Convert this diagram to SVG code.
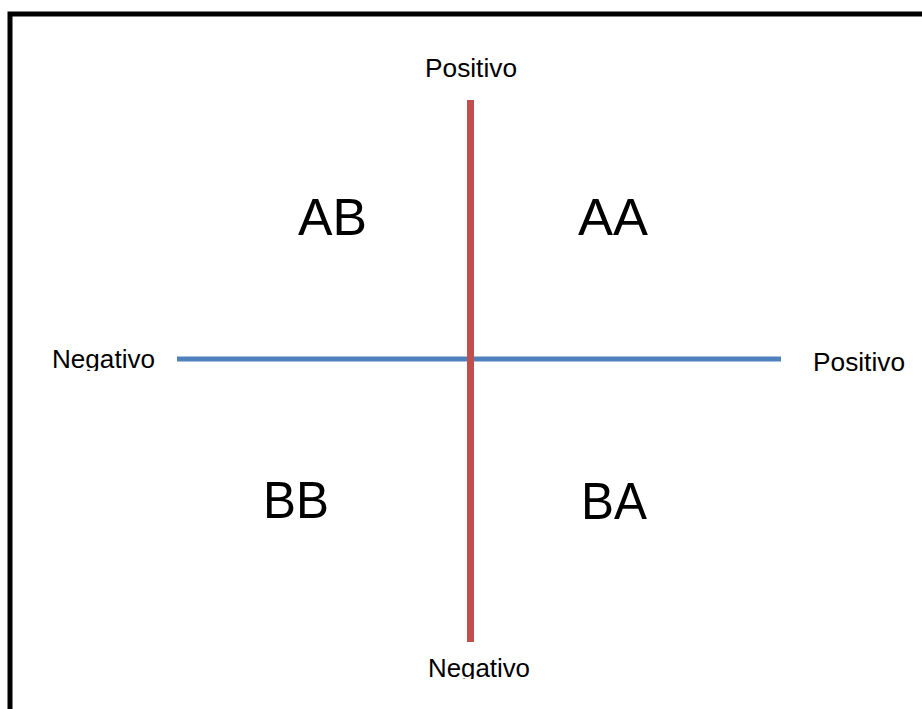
<svg xmlns="http://www.w3.org/2000/svg" width="922" height="709" viewBox="0 0 922 709">
<style>
.lbl{font-family:"Liberation Sans",Arial,sans-serif;font-size:25px;fill:#000}
.big{font-family:"Liberation Sans",Arial,sans-serif;font-size:51px;fill:#000}
</style>
<defs>
<clipPath id="clipL"><rect x="0" y="340" width="200" height="31"/></clipPath>
<clipPath id="clipB"><rect x="400" y="650" width="160" height="29"/></clipPath>
</defs>
<rect x="0" y="0" width="922" height="709" fill="#fff"/>
<path d="M10,720 V14 H930" fill="none" stroke="#000" stroke-width="5"/>
<g id="connectors">
<line x1="177" y1="359" x2="781" y2="359" stroke="#4F81BD" stroke-width="5"/>
<line x1="470.5" y1="100" x2="470.5" y2="642" stroke="#C0504D" stroke-width="7"/>
</g>
<g id="top-label"><text class="lbl" x="425" y="77" textLength="92" lengthAdjust="spacingAndGlyphs">Positivo</text></g>
<g id="bottom-label"><text class="lbl" x="428" y="677" textLength="102" lengthAdjust="spacingAndGlyphs" clip-path="url(#clipB)">Negativo</text></g>
<g id="left-label"><text class="lbl" x="52" y="368" textLength="103" lengthAdjust="spacingAndGlyphs" clip-path="url(#clipL)">Negativo</text></g>
<g id="right-label"><text class="lbl" x="813" y="371" textLength="92" lengthAdjust="spacingAndGlyphs">Positivo</text></g>
<g id="AB"><text class="big" x="298" y="235" textLength="69" lengthAdjust="spacingAndGlyphs">AB</text></g>
<g id="AA"><text class="big" x="578" y="235" textLength="70" lengthAdjust="spacingAndGlyphs">AA</text></g>
<g id="BB"><text class="big" x="263" y="518" textLength="66" lengthAdjust="spacingAndGlyphs">BB</text></g>
<g id="BA"><text class="big" x="581" y="519" textLength="66" lengthAdjust="spacingAndGlyphs">BA</text></g>
</svg>
